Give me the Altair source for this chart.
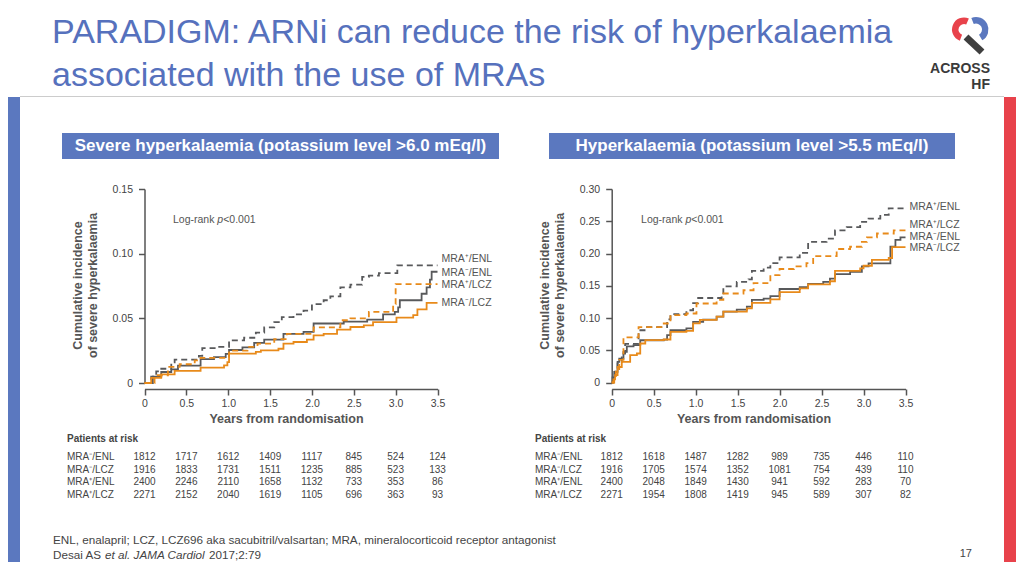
import altair as alt
import pandas as pd

W, H = 1008, 554
FONT = "Liberation Sans"
TITLE_BLUE = "#5671BD"
BOX_BLUE = "#5B78BF"
RED = "#E8424B"
DARK = "#58595B"
ORANGE = "#E88A1A"
TXT = "#555555"
NUM = "#444444"

GROUPS = ["MRA⁺/ENL", "MRA⁻/ENL", "MRA⁺/LCZ", "MRA⁻/LCZ"]
TABLE_ROWS = ["MRA⁻/ENL", "MRA⁻/LCZ", "MRA⁺/ENL", "MRA⁺/LCZ"]
TIMES = [0, 0.5, 1.0, 1.5, 2.0, 2.5, 3.0, 3.5]

# ---- Severe hyperkalaemia (K > 6.0 mEq/l) ----
sev_pos_enl_t = [0, 0.08, 0.14, 0.20, 0.32, 0.36, 0.65, 0.69, 0.87, 1.01, 1.19, 1.33, 1.43, 1.55, 1.64, 1.78, 1.90, 2.00, 2.14, 2.22, 2.34, 2.46, 2.60, 2.68, 2.80, 3.02, 3.50]
sev_pos_enl_v = [0, 0.005, 0.009, 0.011, 0.016, 0.018, 0.021, 0.027, 0.028, 0.033, 0.035, 0.039, 0.043, 0.047, 0.051, 0.053, 0.056, 0.061, 0.064, 0.067, 0.074, 0.076, 0.082, 0.083, 0.085, 0.091, 0.091]
sev_neg_enl_t = [0, 0.10, 0.20, 0.32, 0.40, 0.67, 0.83, 0.97, 1.01, 1.17, 1.31, 1.43, 1.66, 1.90, 2.02, 2.38, 2.66, 2.85, 2.99, 3.03, 3.05, 3.31, 3.37, 3.41, 3.43, 3.50]
sev_neg_enl_v = [0, 0.005, 0.0085, 0.0105, 0.0135, 0.0185, 0.020, 0.0225, 0.0255, 0.0275, 0.031, 0.0335, 0.038, 0.0395, 0.046, 0.0475, 0.049, 0.053, 0.055, 0.0585, 0.064, 0.069, 0.074, 0.080, 0.086, 0.086]
sev_pos_lcz_t = [0, 0.12, 0.28, 0.42, 0.60, 0.67, 1.01, 1.23, 1.35, 1.55, 1.70, 2.02, 2.34, 2.46, 2.68, 2.97, 3.00, 3.50]
sev_pos_lcz_v = [0, 0.006, 0.0125, 0.0145, 0.0175, 0.0195, 0.025, 0.028, 0.0305, 0.034, 0.038, 0.043, 0.0485, 0.050, 0.055, 0.061, 0.0765, 0.0765]
sev_neg_lcz_t = [0, 0.08, 0.20, 0.36, 0.67, 0.95, 0.99, 1.01, 1.33, 1.39, 1.60, 1.66, 1.78, 1.94, 2.02, 2.14, 2.30, 2.46, 2.62, 2.73, 3.01, 3.21, 3.26, 3.37, 3.50]
sev_neg_lcz_v = [0, 0.004, 0.0067, 0.0093, 0.0119, 0.0137, 0.0162, 0.0227, 0.024, 0.0253, 0.0265, 0.0304, 0.0317, 0.0335, 0.0369, 0.038, 0.0412, 0.0433, 0.0446, 0.047, 0.0505, 0.0525, 0.057, 0.062, 0.062]
sev_label_v = [0.0959, 0.0851, 0.0758, 0.0619]

# ---- Hyperkalaemia (K > 5.5 mEq/l) ----
hyp_pos_enl_t = [0, 0.02, 0.04, 0.07, 0.12, 0.16, 0.32, 0.42, 0.66, 0.70, 0.89, 0.97, 1.03, 1.31, 1.33, 1.49, 1.63, 1.67, 1.81, 1.89, 2.00, 2.24, 2.34, 2.56, 2.66, 2.80, 2.96, 3.06, 3.20, 3.30, 3.50]
hyp_pos_enl_v = [0, 0.008, 0.017, 0.032, 0.045, 0.060, 0.081, 0.086, 0.098, 0.106, 0.112, 0.123, 0.131, 0.1355, 0.149, 0.156, 0.160, 0.173, 0.178, 0.185, 0.194, 0.201, 0.218, 0.223, 0.236, 0.241, 0.249, 0.254, 0.260, 0.270, 0.270]
hyp_neg_enl_t = [0, 0.01, 0.03, 0.07, 0.09, 0.14, 0.18, 0.26, 0.34, 0.62, 0.66, 0.70, 0.89, 0.97, 1.09, 1.25, 1.33, 1.49, 1.61, 1.67, 1.81, 1.89, 2.00, 2.24, 2.34, 2.52, 2.60, 2.66, 2.84, 2.98, 3.06, 3.32, 3.38, 3.44, 3.50]
hyp_neg_enl_v = [0, 0.008, 0.0166, 0.032, 0.037, 0.0476, 0.056, 0.058, 0.0655, 0.0665, 0.0735, 0.081, 0.084, 0.094, 0.0975, 0.102, 0.110, 0.113, 0.1175, 0.128, 0.130, 0.134, 0.145, 0.148, 0.153, 0.156, 0.161, 0.168, 0.1717, 0.180, 0.1847, 0.2105, 0.221, 0.225, 0.225]
hyp_pos_lcz_t = [0, 0.03, 0.05, 0.09, 0.14, 0.32, 0.62, 0.70, 0.89, 1.01, 1.25, 1.33, 1.57, 1.69, 1.89, 2.00, 2.17, 2.32, 2.40, 2.68, 2.84, 2.98, 3.04, 3.16, 3.36, 3.50]
hyp_pos_lcz_v = [0, 0.010, 0.019, 0.035, 0.070, 0.086, 0.0915, 0.1045, 0.107, 0.1225, 0.128, 0.138, 0.143, 0.154, 0.1665, 0.176, 0.180, 0.185, 0.196, 0.207, 0.2105, 0.218, 0.225, 0.231, 0.236, 0.236]
hyp_neg_lcz_t = [0, 0.02, 0.04, 0.07, 0.12, 0.22, 0.30, 0.34, 0.40, 0.62, 0.70, 0.89, 0.97, 1.05, 1.25, 1.33, 1.61, 1.67, 1.89, 2.00, 2.24, 2.34, 2.60, 2.66, 2.96, 3.00, 3.10, 3.30, 3.34, 3.50]
hyp_neg_lcz_v = [0, 0.005, 0.0114, 0.024, 0.032, 0.0424, 0.045, 0.0605, 0.0657, 0.0667, 0.0786, 0.080, 0.0916, 0.097, 0.102, 0.110, 0.115, 0.1236, 0.129, 0.140, 0.146, 0.152, 0.157, 0.173, 0.177, 0.181, 0.190, 0.193, 0.210, 0.210]
hyp_label_v = [0.272, 0.2256, 0.244, 0.2085]

# ---- Patients at risk (rows in TABLE_ROWS order, columns at TIMES) ----
sev_risk = [
    [1812, 1717, 1612, 1409, 1117, 845, 524, 124],
    [1916, 1833, 1731, 1511, 1235, 885, 523, 133],
    [2400, 2246, 2110, 1658, 1132, 733, 353, 86],
    [2271, 2152, 2040, 1619, 1105, 696, 363, 93],
]
hyp_risk = [
    [1812, 1618, 1487, 1282, 989, 735, 446, 110],
    [1916, 1705, 1574, 1352, 1081, 754, 439, 110],
    [2400, 2048, 1849, 1430, 941, 592, 283, 70],
    [2271, 1954, 1808, 1419, 945, 589, 307, 82],
]

ONE = pd.DataFrame({"k": [0]})


def curves(pairs):
    rows = []
    for g, (ts, vs) in zip(GROUPS, pairs):
        for t, v in zip(ts, vs):
            rows.append({"group": g, "t": t, "v": v})
    return pd.DataFrame(rows)


def risk_df(table):
    rows = []
    for r, vals in zip(TABLE_ROWS, table):
        for t, n in zip(TIMES, vals):
            rows.append({"row": r, "t": t, "n": str(n)})
    return pd.DataFrame(rows)


color_scale = alt.Scale(domain=GROUPS, range=[DARK, DARK, ORANGE, ORANGE])
dash_scale = alt.Scale(domain=GROUPS, range=[[6, 4], [1, 0], [6, 4], [1, 0]])
AXIS_Y = 381


def km_panel(df, label_v, x_range, y_max, y_range, y_vals, xtitle_x, logrank):
    def xs():
        return alt.Scale(domain=[0, 3.5], range=x_range, nice=False, zero=False)

    def ys():
        return alt.Scale(domain=[0, y_max], range=y_range, nice=False, zero=False)

    xaxis = alt.Axis(orient="bottom", offset=AXIS_Y - H, values=TIMES, labelFlush=False,
                     labelExpr="datum.value == 0 ? '0' : format(datum.value, '.1f')",
                     title="Years from randomisation", titleX=xtitle_x, titleY=29,
                     titleBaseline="middle", labelPadding=3)
    yaxis = alt.Axis(orient="left", offset=-x_range[0], values=y_vals, labelFlush=False,
                     labelExpr="datum.value == 0 ? '0' : format(datum.value, '.2f')",
                     title=["Cumulative incidence", "of severe hyperkalaemia"],
                     titleX=-67.5, titleY=277, titleBaseline="middle", titleLineHeight=15,
                     labelPadding=6)
    lines = alt.Chart(df).mark_line(interpolate="step-after", strokeWidth=1.8).encode(
        x=alt.X("t:Q", scale=xs(), axis=xaxis),
        y=alt.Y("v:Q", scale=ys(), axis=yaxis),
        color=alt.Color("group:N", scale=color_scale, legend=None),
        strokeDash=alt.StrokeDash("group:N", scale=dash_scale, legend=None),
    )
    lab = pd.DataFrame({"group": GROUPS, "t": [3.5] * 4, "v": label_v})
    labels = alt.Chart(lab).mark_text(align="left", dx=4, fontSize=10.5, color=TXT, baseline="middle").encode(
        x=alt.X("t:Q", scale=xs(), axis=None), y=alt.Y("v:Q", scale=ys(), axis=None), text="group:N")
    lr = pd.DataFrame({"t": [logrank[0]], "v": [logrank[1]]})

    def enc():
        return dict(x=alt.X("t:Q", scale=xs(), axis=None), y=alt.Y("v:Q", scale=ys(), axis=None))

    lr1 = alt.Chart(lr).mark_text(text="Log-rank ", align="left", baseline="middle", fontSize=10.5, color=TXT).encode(**enc())
    lr2 = alt.Chart(lr).mark_text(text="p", align="left", baseline="middle", fontSize=10.5, color=TXT, fontStyle="italic", dx=44.4).encode(**enc())
    lr3 = alt.Chart(lr).mark_text(text="<0.001", align="left", baseline="middle", fontSize=10.5, color=TXT, dx=50.2).encode(**enc())
    return [lines, labels, lr1, lr2, lr3]


def risk_table(table, x_range, label_x):
    def ys():
        return alt.Scale(type="point", domain=TABLE_ROWS, range=[449, 486.5], padding=0)

    xs = alt.Scale(domain=[0, 3.5], range=x_range, nice=False, zero=False)
    df = risk_df(table)
    nums = alt.Chart(df).mark_text(fontSize=10, color=NUM, align="center", baseline="middle").encode(
        x=alt.X("t:Q", scale=xs, axis=None), y=alt.Y("row:N", scale=ys(), axis=None), text="n:N")
    rl = pd.DataFrame({"row": TABLE_ROWS})
    names = alt.Chart(rl).mark_text(fontSize=10, color=NUM, align="left", baseline="middle").encode(
        x=alt.value(label_x), y=alt.Y("row:N", scale=ys(), axis=None), text="row:N")
    head = alt.Chart(ONE).mark_text(text="Patients at risk", fontSize=10, fontWeight="bold", color=NUM,
                                    align="left", baseline="middle").encode(x=alt.value(label_x), y=alt.value(431))
    return [nums, names, head]


def rect(x, x2, y, y2, color):
    return alt.Chart(ONE).mark_rect(color=color).encode(
        x=alt.value(x), x2=alt.value(x2), y=alt.value(y), y2=alt.value(y2))


def txt(text, x, y, size, color, weight="normal", align="left", baseline="alphabetic", style="normal"):
    return alt.Chart(ONE).mark_text(text=text, fontSize=size, color=color, fontWeight=weight, align=align,
                                    baseline=baseline, fontStyle=style).encode(x=alt.value(x), y=alt.value(y))


decor = [
    rect(0, 12, 89, H, BOX_BLUE),
    rect(996, W, 89, H, RED),
    alt.Chart(ONE).mark_rule(color="#cccccc", strokeWidth=1).encode(
        x=alt.value(12), x2=alt.value(996), y=alt.value(88.5)),
    txt("PARADIGM: ARNi can reduce the risk of hyperkalaemia", 44, 35, 34, TITLE_BLUE),
    txt("associated with the use of MRAs", 44, 78, 34, TITLE_BLUE),
    rect(54, 491, 125, 151, BOX_BLUE),
    rect(541, 947, 125, 151, BOX_BLUE),
    txt("Severe hyperkalaemia (potassium level >6.0 mEq/l)", 272.5, 138, 17, "white", "bold", "center", "middle"),
    txt("Hyperkalaemia (potassium level >5.5 mEq/l)", 744, 138, 17, "white", "bold", "center", "middle"),
    # logo
    alt.Chart(ONE).mark_arc(theta=3.5, theta2=6.7, radius=12, radius2=5.5, color=RED).encode(
        x=alt.value(956), y=alt.value(21.5)),
    alt.Chart(ONE).mark_arc(theta=5.9, theta2=8.9, radius=12.5, radius2=6, color=BOX_BLUE).encode(
        x=alt.value(968), y=alt.value(21.5)),
    alt.Chart(ONE).mark_rule(strokeWidth=7, color="#3F3F3F").encode(
        x=alt.value(958), y=alt.value(29), x2=alt.value(974), y2=alt.value(44)),
    txt("ACROSS", 982, 65, 14, "#3a3a3a", "bold", "right"),
    txt("HF", 982, 81, 14, "#3a3a3a", "bold", "right"),
    # footer
    txt("ENL, enalapril; LCZ, LCZ696 aka sacubitril/valsartan; MRA, mineralocorticoid receptor antagonist", 45, 536, 11.7, "#444444"),
    txt("Desai AS", 45, 551, 11.7, "#444444"),
    txt("et al. JAMA Cardiol", 97, 551, 11.7, "#444444", style="italic"),
    txt("2017;2:79", 201, 551, 11.7, "#444444"),
    txt("17", 964, 549, 11, "#444444", align="right"),
]

left_curves = curves([(sev_pos_enl_t, sev_pos_enl_v), (sev_neg_enl_t, sev_neg_enl_v),
                      (sev_pos_lcz_t, sev_pos_lcz_v), (sev_neg_lcz_t, sev_neg_lcz_v)])
right_curves = curves([(hyp_pos_enl_t, hyp_pos_enl_v), (hyp_neg_enl_t, hyp_neg_enl_v),
                       (hyp_pos_lcz_t, hyp_pos_lcz_v), (hyp_neg_lcz_t, hyp_neg_lcz_v)])

LX = [136.5, 429.5]
RX = [603.7, 897.5]
left_panel = km_panel(left_curves, sev_label_v, LX, 0.15, [375, 181], [0, 0.05, 0.10, 0.15], 278, (0.34, 0.126))
right_panel = km_panel(right_curves, hyp_label_v, RX, 0.30, [374.5, 181],
                       [0, 0.05, 0.10, 0.15, 0.20, 0.25, 0.30], 745.5, (0.35, 0.252))
left_table = risk_table(sev_risk, LX, 59)
right_table = risk_table(hyp_risk, RX, 527)

chart = alt.layer(*decor, *left_panel, *right_panel, *left_table, *right_table).resolve_scale(
    x="independent", y="independent"
).properties(
    width=W, height=H, padding=0, autosize=alt.AutoSizeParams(type="none")
).configure(font=FONT).configure_view(stroke=None).configure_axis(
    grid=False, domainColor="#555555", domainWidth=1.5, tickColor="#555555", tickWidth=1.5, tickSize=6,
    labelColor=NUM, labelFontSize=10.5, labelFont=FONT, titleFont=FONT, titleColor=TXT,
    titleFontSize=12.5, titleFontWeight="bold"
)

chart.save("out.html", embed_options={"renderer": "svg", "actions": False})
